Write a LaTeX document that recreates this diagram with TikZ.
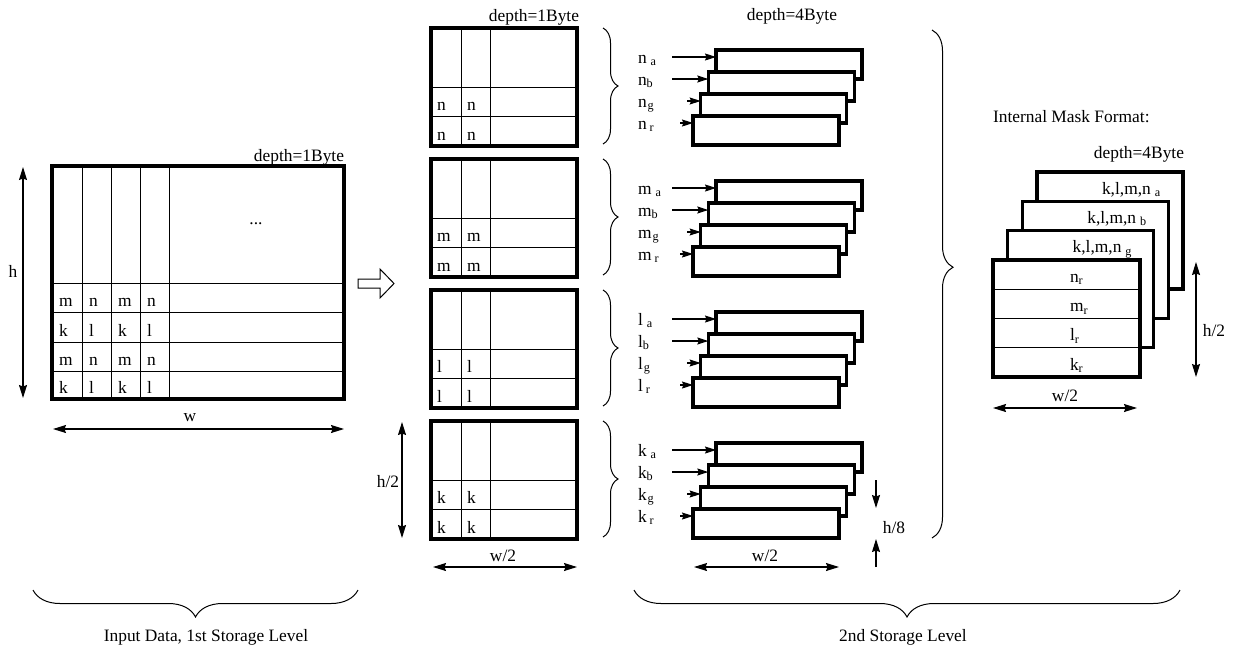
\documentclass[tikz,border=0pt]{standalone}
\usepackage{fontspec}
\setmainfont{Liberation Serif}
\usetikzlibrary{arrows.meta,decorations.pathreplacing,calc}
\tikzset{
  every node/.style={font=\fontsize{17.4}{20}\selectfont, inner sep=0pt, outer sep=0pt},
  bx/.style={draw, line width=3.2pt, fill=white, rectangle, anchor=north west},
  gridline/.style={line width=0.9pt},
  dimtip/.tip={Stealth[length=13pt,width=8pt,inset=1.5pt]},
  lbltip/.tip={Stealth[length=11pt,width=7pt,inset=1.5pt]},
  dim/.style={line width=1.1pt, dimtip-dimtip},
  lblarrow/.style={line width=1.1pt, -lbltip},
  curly/.style={decorate, decoration={brace, amplitude=#1}, line width=1pt},
}
\begin{document}
\begin{tikzpicture}[x=1pt,y=-1pt]
\useasboundingbox (0,0) rectangle (1238,646);

% ---------- input matrix ----------
\node[bx, minimum width=292pt, minimum height=233pt] (in) at (52,166) {};
\foreach \x in {82,111,140,169} \draw[gridline] (\x,166) -- (\x,399);
\foreach \y in {283,312,342,371} \draw[gridline] (52,\y) -- (344,\y);
\foreach \yb/\ca/\cb in {312/m/n, 342/k/l, 371/m/n, 399/k/l} {
  \foreach \xl/\tx in {52/\ca, 82/\cb, 111/\ca, 140/\cb}
    \node[anchor=base west] (c\yb-\xl) at (\xl+7,\yb-6) {\tx};
}
\node[anchor=base] (dots) at (256,224) {...};
\node[anchor=base east] (dep1) at (344,161) {depth=1Byte};
\coordinate (hA) at (23,167); \coordinate (hB) at (23,398);
\draw[dim] (hA) -- (hB);
\node (hlab) at (13,271) {h};
\coordinate (wA) at (53,429); \coordinate (wB) at (344,429);
\draw[dim] (wA) -- (wB);
\node (wlab) at (190,418) {w};

% hollow arrow
\draw[line width=1pt] (358,279) -- (380,279) -- (380,269) -- (394,283.5) -- (380,298) -- (380,288) -- (358,288) -- cycle;

% ---------- middle: 1 byte planes ----------
\node[anchor=base east] (dep2) at (579,21) {depth=1Byte};
\foreach \i/\lt in {0/n,1/m,2/l,3/k} {
  \pgfmathsetmacro\tp{28+131*\i}
  \node[bx, minimum width=146pt, minimum height=118pt] (mid\i) at (431,\tp) {};
  \draw[gridline] (461,\tp) -- (461,\tp+118);
  \draw[gridline] (490,\tp) -- (490,\tp+118);
  \draw[gridline] (431,\tp+59) -- (577,\tp+59);
  \draw[gridline] (431,\tp+88) -- (577,\tp+88);
  \node[anchor=base west] (m\i a) at (437,\tp+82) {\lt};
  \node[anchor=base west] (m\i b) at (467,\tp+82) {\lt};
  \node[anchor=base west] (m\i c) at (437,\tp+112) {\lt};
  \node[anchor=base west] (m\i d) at (467,\tp+112) {\lt};
  \draw[curly=15pt] (603,\tp) -- (603,\tp+116);
}
\coordinate (h2A) at (402,422); \coordinate (h2B) at (402,538);
\draw[dim] (h2A) -- (h2B);
\node (h2lab) at (388,482) {h/2};
\coordinate (w2A) at (433,567); \coordinate (w2B) at (577,567);
\draw[dim] (w2A) -- (w2B);
\node (w2lab) at (503,556) {w/2};

% ---------- stacks: 4 byte planes ----------
\node[anchor=base] (dep3) at (792,20) {depth=4Byte};
\foreach \i/\lt in {0/n,1/m,2/l,3/k} {
  \pgfmathsetmacro\tp{50+131*\i}
  \foreach \j/\s/\ax/\gp in {0/a/672/4, 1/b/672/0, 2/g/687/1, 3/r/680/3} {
    \pgfmathsetmacro\bxx{716-7.67*\j}
    \pgfmathsetmacro\byy{\tp+22*\j}
    \node[bx, minimum width=146pt, minimum height=29pt] (s\i\j) at (\bxx,\byy) {};
    \node[anchor=base west] (sl\i\j) at (638,\byy+13) {\lt\hspace{\gp pt}\textsubscript{\s}};
    \coordinate (sa\i\j) at (\ax,\byy+7);
    \draw[lblarrow] (sa\i\j) -- (sa\i\j -| s\i\j.west);
  }
}
\coordinate (w3A) at (694,567); \coordinate (w3B) at (839,567);
\draw[dim] (w3A) -- (w3B);
\node (w3lab) at (765,556) {w/2};
\coordinate (h8A) at (876,480); \coordinate (h8B) at (876,508);
\coordinate (h8C) at (876,567); \coordinate (h8D) at (876,539);
\draw[line width=1.1pt, -dimtip] (h8A) -- (h8B);
\draw[line width=1.1pt, -dimtip] (h8C) -- (h8D);
\node (h8lab) at (894,528) {h/8};

\coordinate (bbA) at (932,30); \coordinate (bbB) at (932,538);
\draw[curly=21pt, decoration={aspect=0.467}] (bbA) -- (bbB);

% ---------- internal mask format ----------
\node[anchor=base west] (imf) at (993,122) {Internal Mask Format:};
\node[anchor=base east] (dep4) at (1184,158) {depth=4Byte};
\foreach \j/\s in {0/a,1/b,2/g} {
  \pgfmathsetmacro\bxx{1037-14.67*\j}
  \pgfmathsetmacro\byy{172+29.33*\j}
  \node[bx, minimum width=146pt, minimum height=117pt] (r\j) at (\bxx,\byy) {};
  \node[anchor=base west] (rl\j) at (\bxx+65,\byy+22) {k,l,m,n\hspace{4pt}\textsubscript{\s}};
}
\node[bx, minimum width=147pt, minimum height=117pt] (r3) at (993,260) {};
\foreach \y in {289.25,318.5,347.75} \draw[gridline] (993,\y) -- (1140,\y);
\foreach \yb/\lt in {289.25/n, 318.5/m, 347.75/l, 377/k}
  \node[anchor=base west] (fr\lt) at (1070,\yb-7) {\lt\textsubscript{r}};
\coordinate (h4A) at (1196,262); \coordinate (h4B) at (1196,377);
\draw[dim] (h4A) -- (h4B);
\node (h4lab) at (1214,331) {h/2};
\coordinate (w4A) at (993,408); \coordinate (w4B) at (1137,408);
\draw[dim] (w4A) -- (w4B);
\node (w4lab) at (1065,396) {w/2};

% ---------- bottom braces ----------
\coordinate (lbA) at (358,590); \coordinate (lbB) at (33,590);
\draw[curly=27pt] (lbA) -- (lbB);
\node[anchor=base] (lbl1) at (206,641) {Input Data, 1st Storage Level};
\coordinate (rbA) at (1180,590); \coordinate (rbB) at (634,590);
\draw[curly=27pt] (rbA) -- (rbB);
\node[anchor=base] (lbl2) at (903,641) {2nd Storage Level};
\end{tikzpicture}
\end{document}
